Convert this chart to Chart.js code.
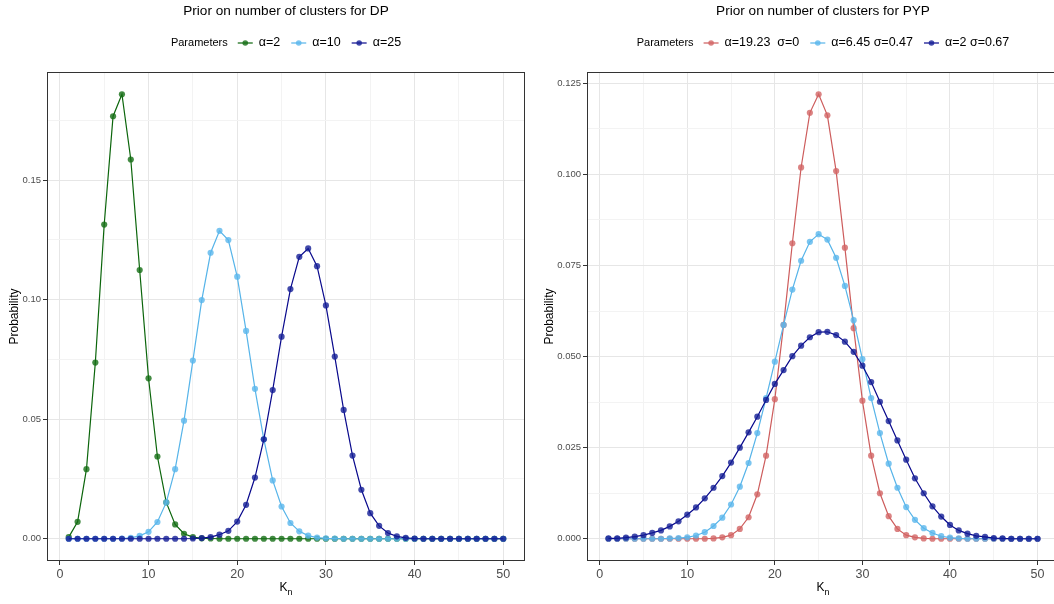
<!DOCTYPE html>
<html>
<head>
<meta charset="utf-8">
<script src="https://cdn.jsdelivr.net/npm/chart.js@4.4.1/dist/chart.umd.min.js"></script>
<style>
  html, body { margin: 0; padding: 0; background: #fff; overflow: hidden; }
  #wrap { position: relative; width: 1054px; height: 604px; overflow: hidden; }
  canvas { position: absolute; top: 0; }
</style>
</head>
<body>
<div id="wrap">
  <canvas id="dpChart" width="527" height="604" style="left:0"></canvas>
  <canvas id="pypChart" width="532" height="604" style="left:527px"></canvas>
</div>
<script>
// number of clusters K_n
const kValues = [1, 2, 3, 4, 5, 6, 7, 8, 9, 10, 11, 12, 13, 14, 15, 16, 17, 18, 19, 20,
  21, 22, 23, 24, 25, 26, 27, 28, 29, 30, 31, 32, 33, 34, 35, 36, 37, 38, 39, 40,
  41, 42, 43, 44, 45, 46, 47, 48, 49, 50];

// DP priors
const dpLabels = ['α=2', 'α=10', 'α=25'];
const dpAlpha2 = [0.0007, 0.0071, 0.0291, 0.0737, 0.1314, 0.1767, 0.1859, 0.1586, 0.1124, 0.0671,
  0.0344, 0.0152, 0.0060, 0.0021, 0.0007, 0.0002, 0.0001, 0, 0, 0,
  0, 0, 0, 0, 0, 0, 0, 0, 0, 0, 0, 0, 0, 0, 0, 0, 0, 0, 0, 0,
  0, 0, 0, 0, 0, 0, 0, 0, 0, 0];
const dpAlpha10 = [0, 0, 0, 0, 0, 0, 0.0001, 0.0004, 0.0012, 0.0029,
  0.0070, 0.0152, 0.0291, 0.0494, 0.0745, 0.0998, 0.1196, 0.1288, 0.1249, 0.1096,
  0.0869, 0.0627, 0.0416, 0.0244, 0.0135, 0.0066, 0.0031, 0.0013, 0.0005, 0.0002,
  0.0001, 0, 0, 0, 0, 0, 0, 0, 0, 0,
  0, 0, 0, 0, 0, 0, 0, 0, 0, 0];
const dpAlpha25 = [0, 0, 0, 0, 0, 0, 0, 0, 0, 0,
  0, 0, 0, 0, 0.0001, 0.0003, 0.0007, 0.0017, 0.0033, 0.0072,
  0.0142, 0.0256, 0.0416, 0.0622, 0.0845, 0.1044, 0.1179, 0.1214, 0.1140, 0.0976,
  0.0762, 0.0539, 0.0348, 0.0205, 0.0107, 0.0054, 0.0024, 0.0010, 0.0004, 0.0001,
  0, 0, 0, 0, 0, 0, 0, 0, 0, 0];

// PYP priors
const pypLabels = ['α=19.23  σ=0', 'α=6.45 σ=0.47', 'α=2 σ=0.67'];
const pypSigma0 = [0, 0, 0, 0, 0, 0, 0, 0, 0, 0,
  0, 0, 0.0001, 0.0004, 0.0010, 0.0027, 0.0059, 0.0122, 0.0228, 0.0383,
  0.0587, 0.0811, 0.1019, 0.1169, 0.1220, 0.1162, 0.1009, 0.0799, 0.0578, 0.0379,
  0.0228, 0.0125, 0.0062, 0.0027, 0.0010, 0.0004, 0.0001, 0, 0, 0,
  0, 0, 0, 0, 0, 0, 0, 0, 0, 0];
const pypSigma047 = [0, 0, 0, 0, 0, 0, 0, 0.0001, 0.0002, 0.0004,
  0.0009, 0.0018, 0.0035, 0.0058, 0.0094, 0.0143, 0.0208, 0.0290, 0.0386, 0.0486,
  0.0587, 0.0684, 0.0763, 0.0815, 0.0836, 0.0821, 0.0771, 0.0694, 0.0600, 0.0493,
  0.0386, 0.0290, 0.0206, 0.0140, 0.0087, 0.0052, 0.0029, 0.0016, 0.0007, 0.0003,
  0.0001, 0, 0, 0, 0, 0, 0, 0, 0, 0];
const pypSigma067 = [0.0001, 0.0001, 0.0003, 0.0006, 0.0010, 0.0016, 0.0023, 0.0034, 0.0048, 0.0066,
  0.0086, 0.0111, 0.0140, 0.0172, 0.0209, 0.0250, 0.0292, 0.0335, 0.0381, 0.0425,
  0.0463, 0.0501, 0.0530, 0.0553, 0.0567, 0.0568, 0.0559, 0.0541, 0.0513, 0.0475,
  0.0430, 0.0376, 0.0323, 0.0270, 0.0217, 0.0166, 0.0125, 0.0089, 0.0061, 0.0038,
  0.0023, 0.0014, 0.0008, 0.0005, 0.0002, 0.0001, 0, 0, 0, 0];

// ticks
const xMajorTicks = [0, 10, 20, 30, 40, 50];
const xMinorTicks = [5, 15, 25, 35, 45];
const dpMajorTicks = [0, 0.05, 0.10, 0.15];
const dpMinorTicks = [0.025, 0.075, 0.125, 0.175];
const pypMajorTicks = [0, 0.025, 0.05, 0.075, 0.1, 0.125];
const pypMinorTicks = [0.0125, 0.0375, 0.0625, 0.0875, 0.1125];

const FONT = "'Liberation Sans', Arial, Helvetica, sans-serif";

function toPoints(values) {
  return values.map((v, i) => ({ x: kValues[i], y: v }));
}

function makeDataset(label, values, lineColor, pointColor, order) {
  return {
    label: label,
    data: toPoints(values),
    borderColor: lineColor,
    backgroundColor: pointColor,
    pointBackgroundColor: pointColor,
    pointBorderWidth: 0,
    pointRadius: 3.1,
    borderWidth: 1.2,
    tension: 0,
    order: order
  };
}

// title, ggplot-style inline legend, x title with subscript and panel border
const panelPlugin = {
  id: 'panel',
  afterDraw(chart, args, opts) {
    const { ctx, chartArea } = chart;
    const cx = (chartArea.left + chartArea.right) / 2;
    ctx.save();

    ctx.strokeStyle = '#333';
    ctx.lineWidth = 1;
    ctx.strokeRect(chartArea.left + 0.5, chartArea.top + 0.5,
      chartArea.right - chartArea.left - 1, chartArea.bottom - chartArea.top - 1);

    ctx.fillStyle = '#000';
    ctx.textBaseline = 'middle';
    ctx.textAlign = 'center';
    ctx.font = `13.6px ${FONT}`;
    ctx.fillText(opts.title, cx, 11);

    // x axis title K_n
    ctx.textAlign = 'left';
    ctx.font = `12px ${FONT}`;
    const kw = ctx.measureText('K').width;
    ctx.font = `9px ${FONT}`;
    const nw = ctx.measureText('n').width;
    ctx.font = `12px ${FONT}`;
    ctx.fillText('K', cx - (kw + nw) / 2, 588);
    ctx.font = `9px ${FONT}`;
    ctx.fillText('n', cx - (kw + nw) / 2 + kw, 593);

    // legend
    const headFont = `11px ${FONT}`, itemFont = `12.5px ${FONT}`;
    const head = 'Parameters';
    ctx.font = headFont;
    const headW = ctx.measureText(head).width;
    ctx.font = itemFont;
    const items = chart.data.datasets.map(d => ({
      text: d.label, line: d.borderColor, dot: d.pointBackgroundColor,
      w: ctx.measureText(d.label).width
    }));
    const glyph = 15, gapText = 6, gapItem = 11, gapHead = 10;
    let total = headW + gapHead;
    items.forEach((it, i) => { total += glyph + gapText + it.w + (i < items.length - 1 ? gapItem : 0); });
    let x = cx - total / 2;
    const y = 43;
    ctx.font = headFont;
    ctx.fillText(head, x, y);
    x += headW + gapHead;
    ctx.font = itemFont;
    items.forEach(it => {
      ctx.strokeStyle = it.line;
      ctx.lineWidth = 1.2;
      ctx.beginPath();
      ctx.moveTo(x, y);
      ctx.lineTo(x + glyph, y);
      ctx.stroke();
      ctx.fillStyle = it.dot;
      ctx.beginPath();
      ctx.arc(x + glyph / 2, y, 2.8, 0, Math.PI * 2);
      ctx.fill();
      x += glyph + gapText;
      ctx.fillStyle = '#000';
      ctx.fillText(it.text, x, y);
      x += it.w + gapItem;
    });
    ctx.restore();
  }
};

function gridOpts(majors) {
  const isMajor = c => c.tick && majors.includes(c.tick.value);
  return {
    color: c => isMajor(c) ? '#E6E6E6' : '#F3F3F3',
    lineWidth: 1,
    tickLength: 4,
    tickColor: c => isMajor(c) ? '#333' : 'rgba(0,0,0,0)',
    tickWidth: 1
  };
}

function makeOptions(cfg) {
  return {
    responsive: false,
    animation: false,
    events: [],
    layout: { autoPadding: false, padding: { top: 72, right: cfg.padRight, left: 0, bottom: 0 } },
    plugins: {
      legend: { display: false },
      tooltip: { enabled: false },
      panel: { title: cfg.title }
    },
    scales: {
      x: {
        type: 'linear',
        min: -1.45,
        max: 52.45,
        afterFit: s => { s.height = 43; s.paddingLeft = 0; s.paddingRight = 0; },
        afterBuildTicks: s => {
          s.ticks = xMajorTicks.concat(xMinorTicks).sort((a, b) => a - b).map(v => ({ value: v }));
        },
        ticks: {
          autoSkip: false, maxRotation: 0, padding: 2, color: '#4D4D4D',
          font: { family: FONT, size: 12.5 },
          callback: v => xMajorTicks.includes(v) ? String(v) : ''
        },
        grid: gridOpts(xMajorTicks),
        border: { display: false },
        title: { display: false }
      },
      y: {
        type: 'linear',
        min: cfg.yMin,
        max: cfg.yMax,
        afterFit: s => { s.width = cfg.yWidth; s.paddingTop = 0; s.paddingBottom = 0; },
        afterBuildTicks: s => {
          s.ticks = cfg.yMajor.concat(cfg.yMinor).sort((a, b) => a - b).map(v => ({ value: v }));
        },
        ticks: {
          autoSkip: false, padding: 2, color: '#4D4D4D',
          font: { family: FONT, size: 9.5 },
          callback: v => cfg.yMajor.includes(v) ? v.toFixed(cfg.yDigits) : ''
        },
        grid: gridOpts(cfg.yMajor),
        border: { display: false },
        title: { display: true, text: 'Probability', color: '#000', font: { family: FONT, size: 12 }, padding: { top: cfg.titlePad, bottom: 0 } }
      }
    }
  };
}

new Chart(document.getElementById('dpChart'), {
  type: 'line',
  data: {
    datasets: [
      makeDataset(dpLabels[0], dpAlpha2, '#0B650B', 'rgba(20,110,20,0.8)', 3),
      makeDataset(dpLabels[1], dpAlpha10, '#56B4E9', 'rgba(90,182,236,0.8)', 2),
      makeDataset(dpLabels[2], dpAlpha25, '#08088C', 'rgba(20,30,150,0.8)', 1)
    ]
  },
  options: makeOptions({
    title: 'Prior on number of clusters for DP',
    padRight: 2, yWidth: 47, titlePad: 7,
    yMin: -0.0093, yMax: 0.1952, yMajor: dpMajorTicks, yMinor: dpMinorTicks, yDigits: 2
  }),
  plugins: [panelPlugin]
});

// the right panel runs a little past the page edge, as in the source figure
new Chart(document.getElementById('pypChart'), {
  type: 'line',
  data: {
    datasets: [
      makeDataset(pypLabels[0], pypSigma0, '#CD5C5C', 'rgba(210,100,100,0.8)', 3),
      makeDataset(pypLabels[1], pypSigma047, '#56B4E9', 'rgba(90,182,236,0.8)', 2),
      makeDataset(pypLabels[2], pypSigma067, '#08088C', 'rgba(20,30,150,0.8)', 1)
    ]
  },
  options: makeOptions({
    title: 'Prior on number of clusters for PYP',
    padRight: 0, yWidth: 60, titlePad: 15,
    yMin: -0.0061, yMax: 0.1281, yMajor: pypMajorTicks, yMinor: pypMinorTicks, yDigits: 3
  }),
  plugins: [panelPlugin]
});
</script>
</body>
</html>
